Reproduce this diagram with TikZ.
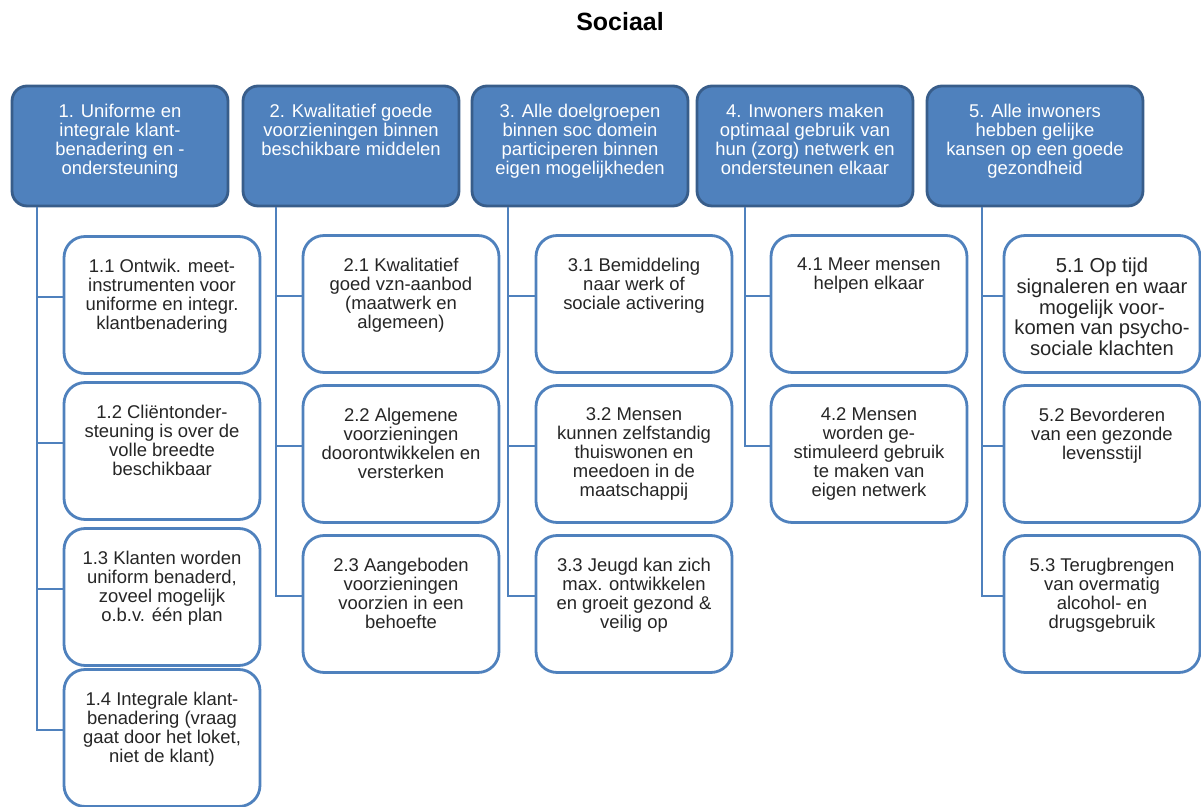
\documentclass[tikz,border=0pt]{standalone}
\usepackage{fontspec}
\setmainfont{Liberation Sans}
\usetikzlibrary{calc}
\definecolor{boxblue}{HTML}{4F81BD}
\definecolor{boxedge}{HTML}{385D8A}
\newcommand{\goaltext}[1]{\parbox[t][1.66cm][t]{4.2cm}{\centering #1}}
\newcommand{\subtext}[1]{\parbox[t][1.84cm][t]{3.8cm}{\centering #1}}

\begin{document}
\begin{tikzpicture}[x=0.02cm,y=-0.02cm,
    goal/.style={draw=boxedge, fill=boxblue, line width=1.6pt, rounded corners=0.3cm,
        text=white, inner xsep=0pt, inner ysep=0.37cm, minimum width=4.32cm,
        font=\fontsize{10.5}{10.8}\selectfont},
    sub/.style={draw=boxblue, fill=white, line width=1.6pt, rounded corners=0.42cm,
        text=black!85, inner xsep=0pt, inner ysep=0.45cm, minimum width=3.92cm,
        font=\fontsize{10.5}{10.8}\selectfont},
    link/.style={draw=boxblue, line width=1.6pt}]
    \useasboundingbox (0,0) rectangle (1201,807);
    \node[font=\fontsize{14.2}{16}\selectfont\bfseries] (title) at (620,22) {Sociaal};

    % hoofddoelen
    \node[goal] (g1) at (120,146) {\goaltext{1. Uniforme en\\integrale klant-\\benadering en -\\ondersteuning}};
    \node[goal] (g2) at (351,146) {\goaltext{2. Kwalitatief goede\\voorzieningen binnen\\beschikbare middelen}};
    \node[goal] (g3) at (580,146) {\goaltext{3. Alle doelgroepen\\binnen soc domein\\participeren binnen\\eigen mogelijkheden}};
    \node[goal] (g4) at (805,146) {\goaltext{4. Inwoners maken\\optimaal gebruik van\\hun (zorg) netwerk en\\ondersteunen elkaar}};
    \node[goal] (g5) at (1035,146) {\goaltext{5. Alle inwoners\\hebben gelijke\\kansen op een goede\\gezondheid}};

    % subdoelen
    \node[sub] (s11) at (162,305) {\subtext{1.1 Ontwik. meet-\\instrumenten voor\\uniforme en integr.\\klantbenadering}};
    \node[sub] (s12) at (162,451) {\subtext{1.2 Cliëntonder-\\steuning is over de\\volle breedte\\beschikbaar}};
    \node[sub] (s13) at (162,597) {\subtext{1.3 Klanten worden\\uniform benaderd,\\zoveel mogelijk\\o.b.v. één plan}};
    \node[sub] (s14) at (162,738) {\subtext{1.4 Integrale klant-\\benadering (vraag\\gaat door het loket,\\niet de klant)}};

    \node[sub] (s21) at (401,304) {\subtext{2.1 Kwalitatief\\goed vzn-aanbod\\(maatwerk en\\algemeen)}};
    \node[sub] (s22) at (401,454) {\subtext{2.2 Algemene\\voorzieningen\\doorontwikkelen en\\versterken}};
    \node[sub] (s23) at (401,604) {\subtext{2.3 Aangeboden\\voorzieningen\\voorzien in een\\behoefte}};

    \node[sub] (s31) at (634,304) {\subtext{3.1 Bemiddeling\\naar werk of\\sociale activering}};
    \node[sub] (s32) at (634,454) {\subtext{3.2 Mensen\\kunnen zelfstandig\\thuiswonen en\\meedoen in de\\maatschappij}};
    \node[sub] (s33) at (634,604) {\subtext{3.3 Jeugd kan zich\\max. ontwikkelen\\en groeit gezond \&\\veilig op}};

    \node[sub] (s41) at (869,304) {\subtext{4.1 Meer mensen\\helpen elkaar}};
    \node[sub] (s42) at (869,454) {\subtext{4.2 Mensen\\worden ge-\\stimuleerd gebruik\\te maken van\\eigen netwerk}};

    \node[sub] (s51) at (1102,304) {\subtext{\fontsize{11.5}{11.8}\selectfont 5.1 Op tijd\\signaleren en waar\\mogelijk voor-\\komen van psycho-\\sociale klachten}};
    \node[sub] (s52) at (1102,454) {\subtext{5.2 Bevorderen\\van een gezonde\\levensstijl}};
    \node[sub] (s53) at (1102,604) {\subtext{5.3 Terugbrengen\\van overmatig\\alcohol- en\\drugsgebruik}};

    % verbindingen
    \coordinate (t1) at (37,0);
    \coordinate (t2) at (276,0);
    \coordinate (t3) at (508,0);
    \coordinate (t4) at (745,0);
    \coordinate (t5) at (982,0);
    \foreach \g/\s in {1/11,1/12,1/13,1/14,2/21,2/22,2/23,3/31,3/32,3/33,4/41,4/42,5/51,5/52,5/53}
        \draw[link] (g\g.south -| t\g) |- ([yshift=0.16cm]s\s.west);
\end{tikzpicture}
\end{document}
